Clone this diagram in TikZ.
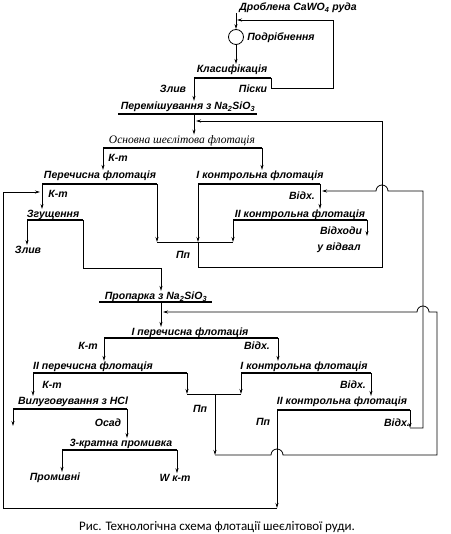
\documentclass[tikz,border=0pt]{standalone}
\usepackage{fontspec}
\setmainfont{Liberation Sans}
\newfontfamily\capfont{Carlito}
\newfontfamily\serifit{Liberation Serif}
\usetikzlibrary{arrows.meta}
\tikzset{
op/.style={inner sep=1pt, font=\fontsize{10.5}{12}\selectfont\bfseries\itshape},
lbl/.style={inner sep=1pt, font=\fontsize{10.5}{12}\selectfont\bfseries\itshape},
bar/.style={line width=1.8pt},
ln/.style={line width=0.8pt},
arr/.style={ln, -{Stealth[length=5pt, width=3pt]}}
}

\begin{document}
\begin{tikzpicture}[x=1pt, y=-1pt]
\useasboundingbox[fill=white] (0,0) rectangle (450,534);
% feed, grinding, classification
\node[lbl] (feed) at (298,8) {Дроблена CaWO\textsubscript{4} руда};
\coordinate (feedtop) at (236,13);
\node[circle, draw, ln, minimum size=15pt, inner sep=0pt] (grind) at (236,37) {};
\node[lbl] (grindl) at (281,38) {Подрібнення};
\draw[arr] (feedtop) -- (grind.north);
\node[op] (klas) at (232,70) {Класифікація};
\coordinate (klas-l) at (194,78); \coordinate (klas-r) at (271,78);
\draw[arr] (grind.south) -- (grind.south |- klas.north);
\node[lbl] (zliv1) at (173,89) {Злив};
\node[lbl] (piski) at (253,89) {Піски};
\coordinate (sand) at (333,88); \coordinate (sandin) at (237,20);
\draw[arr] (klas-r) |- (sand) |- (sandin);
\node[op] (mix) at (188,107) {Перемішування з Na\textsubscript{2}SiO\textsubscript{3}};
\coordinate (mix-l) at (118,114); \coordinate (mix-r) at (257,114);
\coordinate (mixout) at (194,114);
% first flotation cycle
\node[op, font=\fontsize{11.5}{13}\selectfont\serifit\itshape] (rough) at (182,141) {Основна шеєлітова флотація};
\coordinate (rough-l) at (103,148); \coordinate (rough-r) at (262,148);
\node[lbl] (kt1) at (118,158) {К-т};
\node[op] (clean) at (100,176) {Перечисна флотація};
\coordinate (clean-l) at (42,184); \coordinate (clean-r) at (157,184);
\node[op] (scav1) at (260,176) {I контрольна флотація};
\coordinate (scav1-l) at (198,184); \coordinate (scav1-r) at (320,184);
\node[lbl] (kt2) at (58,194) {К-т};
\node[lbl] (vidh1) at (302,196) {Відх.};
\node[op] (thick) at (53,215) {Згущення};
\coordinate (thick-l) at (27,220); \coordinate (thick-r) at (83,220);
\node[op] (scav2) at (300,215) {II контрольна флотація};
\coordinate (scav2-l) at (233,220); \coordinate (scav2-r) at (367,220);
\node[lbl] (tails1) at (341,231) {Відходи};
\node[lbl] (tails1b) at (339,248) {у відвал};
\node[lbl] (zliv2) at (28,250) {Злив};
\node[lbl] (pp1l) at (183,255) {Пп};
% second flotation cycle
\node[op] (steam) at (156,297) {Пропарка з Na\textsubscript{2}SiO\textsubscript{3}};
\coordinate (steam-l) at (99,302); \coordinate (steam-r) at (212,302);
\coordinate (steamout) at (161,302);
\node[op] (cl1) at (190,333) {I перечисна флотація};
\coordinate (cl1-l) at (104,338); \coordinate (cl1-r) at (278,338);
\node[lbl] (kt3) at (88,346) {К-т};
\node[lbl] (vidh2) at (257,346) {Відх.};
\node[op] (cl2) at (93,367) {II перечисна флотація};
\coordinate (cl2-l) at (33,373); \coordinate (cl2-r) at (187,373);
\node[op] (sc1) at (304,367) {I контрольна флотація};
\coordinate (sc1-l) at (241,373); \coordinate (sc1-r) at (371,373);
\node[lbl] (kt4) at (52,385) {К-т};
\node[lbl] (vidh3) at (353,385) {Відх.};
\node[op] (leach) at (73,402) {Вилуговування з HCl};
\coordinate (leach-l) at (13,409); \coordinate (leach-r) at (127,409);
\node[op] (sc2) at (342,402) {II контрольна флотація};
\coordinate (sc2-l) at (277,410); \coordinate (sc2-r) at (410,410);
\node[lbl] (pp2l) at (200,409) {Пп};
\node[lbl] (pp3l) at (263,422) {Пп};
\node[lbl] (vidh4) at (397,423) {Відх.};
\node[lbl] (osad) at (108,423) {Осад};
\node[op] (wash) at (121,444) {3-кратна промивка};
\coordinate (wash-l) at (62,450); \coordinate (wash-r) at (177,450);
\node[lbl] (promyv) at (55,478) {Промивні};
\node[lbl] (wkt) at (175,478) {W к-т};
\node[font=\capfont\fontsize{13}{15}\selectfont] (cap) at (217,527) {Рис. Технологічна схема флотації шеєлітової руди.};

% bars under the operations
\foreach \a in {klas,mix,rough,clean,scav1,thick,scav2,steam,cl1,cl2,sc1,leach,sc2,wash}
\draw[bar] (\a-l) -- (\a-r);

% straight feeds
\foreach \s/\t in {klas-l/mix, mixout/rough, rough-l/clean, rough-r/scav1, clean-l/thick,
  scav1-r/scav2, thick-l/zliv2, steamout/cl1, cl1-l/cl2, cl1-r/sc1, cl2-l/leach,
  sc1-r/sc2, leach-r/wash, wash-l/promyv, wash-r/wkt}
\draw[arr] (\s) -- (\s |- \t.north);
\draw[arr] (scav2-r) -- (scav2-r |- tails1.south);
\coordinate (leachout) at (13,426);
\draw[arr] (leach-l) -- (leachout);

% middlings of the first cycle
\coordinate (pp1) at (198,242); \coordinate (pp1-l) at (157,242); \coordinate (pp1-r) at (233,242);
\draw[arr] (clean-r) -- (pp1-l);
\draw[arr] (scav1-l) -- (pp1);
\draw[arr] (scav2-l) -- (pp1-r);
\draw[ln] (pp1-l) -- (pp1-r);
\coordinate (ret1) at (382,267); \coordinate (roughin) at (196,121);
\draw[arr] (pp1) |- (ret1) |- (roughin);

% thickened product to steaming
\coordinate (thk) at (161,268);
\draw[arr] (thick-r) |- (thk) -- (thk |- steam.north);

% middlings of the second cycle
\coordinate (pp2) at (215,394); \coordinate (pp2-l) at (187,394); \coordinate (pp2-r) at (241,394);
\draw[arr] (cl2-r) -- (pp2-l);
\draw[arr] (sc1-l) -- (pp2-r);
\draw[ln] (pp2-l) -- (pp2-r);
\coordinate (ret3) at (215,455); \coordinate (j2) at (271,455);
\coordinate (ret3b) at (437,455); \coordinate (j3) at (429,312);
\coordinate (cl1in) at (163,312);
\draw[arr] (pp2) -- (ret3);
\draw[arr] (ret3) -- (j2) arc[start angle=180, end angle=0, radius=6pt] -- (ret3b)
  -- (ret3b |- cl1in) -- (j3) arc[start angle=0, end angle=180, radius=6pt] -- (cl1in);

% tails of II control flotation back to the first cycle
\coordinate (ret2a) at (410,428); \coordinate (ret2) at (423,428);
\coordinate (j1) at (388,191); \coordinate (scav1in) at (322,191);
\draw[arr] (sc2-r) -- (ret2a);
\draw[arr] (ret2a) -- (ret2) -- (ret2 |- scav1in) -- (j1)
  arc[start angle=0, end angle=180, radius=6pt] -- (scav1in);

% froth of II control flotation back to cleaning
\coordinate (ret4) at (277,508); \coordinate (ret4b) at (3,508);
\coordinate (cleanin) at (40,192);
\draw[arr] (sc2-l) -- (ret4);
\draw[arr] (ret4) -- (ret4b) |- (cleanin);
\end{tikzpicture}
\end{document}
